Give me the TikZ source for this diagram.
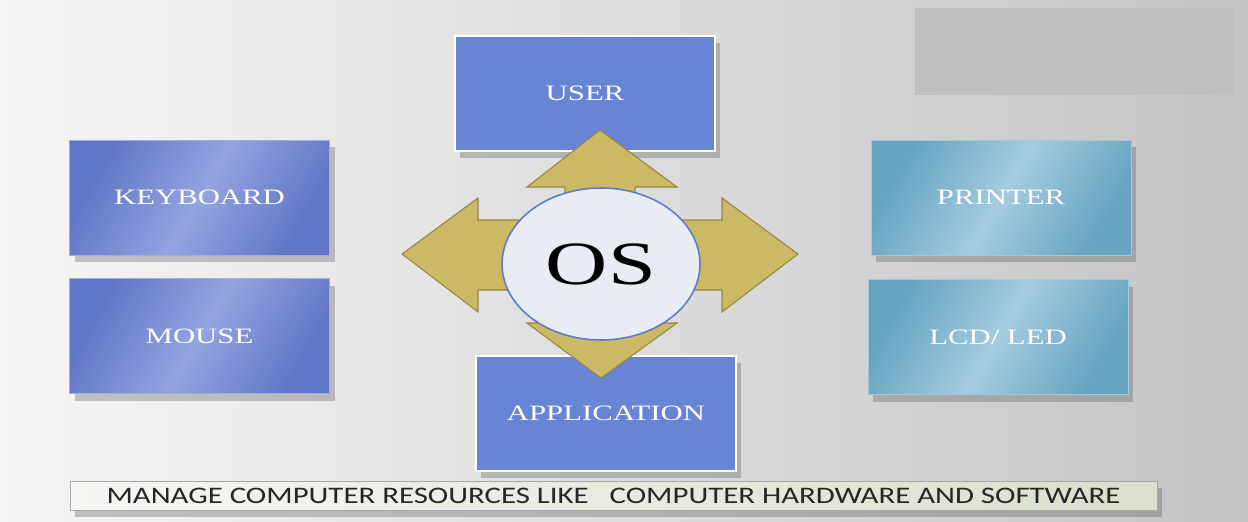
\documentclass[tikz,border=0pt]{standalone}
\usepackage{fontspec}
\setmainfont{Liberation Serif}
\newfontfamily\banda{Carlito}
\usetikzlibrary{positioning,shadows,shapes.geometric}

\definecolor{fondoA}{RGB}{246,246,246}
\definecolor{fondoB}{RGB}{196,196,198}
\definecolor{azulU}{RGB}{104,132,212}
\definecolor{azulA}{RGB}{96,118,198}
\definecolor{azulB}{RGB}{148,164,224}
\definecolor{celA}{RGB}{102,164,194}
\definecolor{celB}{RGB}{164,204,222}
\definecolor{oro}{RGB}{203,185,102}
\definecolor{oroB}{RGB}{150,134,62}
\definecolor{elip}{RGB}{233,237,243}
\definecolor{elipB}{RGB}{96,124,200}
\definecolor{bandaA}{RGB}{246,246,244}
\definecolor{bandaB}{RGB}{218,224,204}

\newcommand{\ancho}[1]{\scalebox{1.4}[1]{#1}}

\tikzset{
    sombra/.style={drop shadow={shadow xshift=3pt,shadow yshift=-4pt,opacity=0.3,fill=black!70}},
    cajaU/.style={rectangle,fill=azulU,draw=white,line width=1.6pt,minimum width=5.2cm,minimum height=2.3cm,
        text=white,font=\fontsize{12.5}{15}\selectfont,sombra},
    cajaI/.style={rectangle,left color=azulA,right color=azulA,middle color=azulB,shading angle=60,
        draw=azulA!60!white,thin,minimum width=5.2cm,minimum height=2.3cm,
        text=white,font=\fontsize{12.5}{15}\selectfont,sombra},
    cajaD/.style={cajaI,left color=celA,right color=celA,middle color=celB,shading angle=60,draw=celA!60!white},
    flecha/.style={fill=oro,draw=oroB,line width=0.6pt,line join=miter},
    nucleo/.style={ellipse,fill=elip,draw=elipB,line width=0.9pt,minimum width=3.96cm,minimum height=3.04cm,
        inner sep=0pt,font=\fontsize{35}{40}\selectfont},
    nota/.style={rectangle,left color=bandaA,right color=bandaB,draw=gray!70,thin,minimum width=21.74cm,
        minimum height=0.58cm,inner sep=0pt,text=black!85,font=\banda\fontsize{13.5}{15}\selectfont,sombra}
}

\begin{document}
\begin{tikzpicture}[x=0.02cm,y=-0.02cm]
\useasboundingbox (0,0) rectangle (1248,521);

%Fondo
\shade[left color=fondoA,right color=fondoB] (0,0) rectangle (1248,521);
\fill[gray!50] (915,8) rectangle (1235,95);

%Cajas
\node[cajaU] (user) at (585,93.5) {\ancho{USER}};
\node[cajaU] (app) at (606,413.5) {\ancho{APPLICATION}};
\node[cajaI] (teclado) at (199.5,197.5) {\ancho{KEYBOARD}};
\node[cajaI,below=0.46cm of teclado] (raton) {\ancho{MOUSE}};
\node[cajaD] (impresora) at (1001,197.5) {\ancho{PRINTER}};
\node[cajaD,below=0.48cm of impresora,xshift=-0.06cm] (pantalla) {\ancho{LCD/ LED}};

%Flechas
\draw[flecha] (600,130) -- (677,187) -- (635,187) -- (635,220) -- (722,220) -- (722,198)
    -- (798,254) -- (722,312) -- (722,290) -- (635,290) -- (635,323) -- (677,323)
    -- (601,378) -- (527,323) -- (565,323) -- (565,290) -- (478,290) -- (478,312)
    -- (402,254) -- (478,198) -- (478,220) -- (565,220) -- (565,187) -- (527,187) -- cycle;

%Nucleo
\node[nucleo] (os) at (601,264) {\ancho{OS}};

%Banda inferior
\node[nota] (banda) at (613.5,495.5) {\scalebox{1.3}[1]{MANAGE COMPUTER RESOURCES LIKE \ \ COMPUTER HARDWARE AND SOFTWARE}};
\end{tikzpicture}
\end{document}
